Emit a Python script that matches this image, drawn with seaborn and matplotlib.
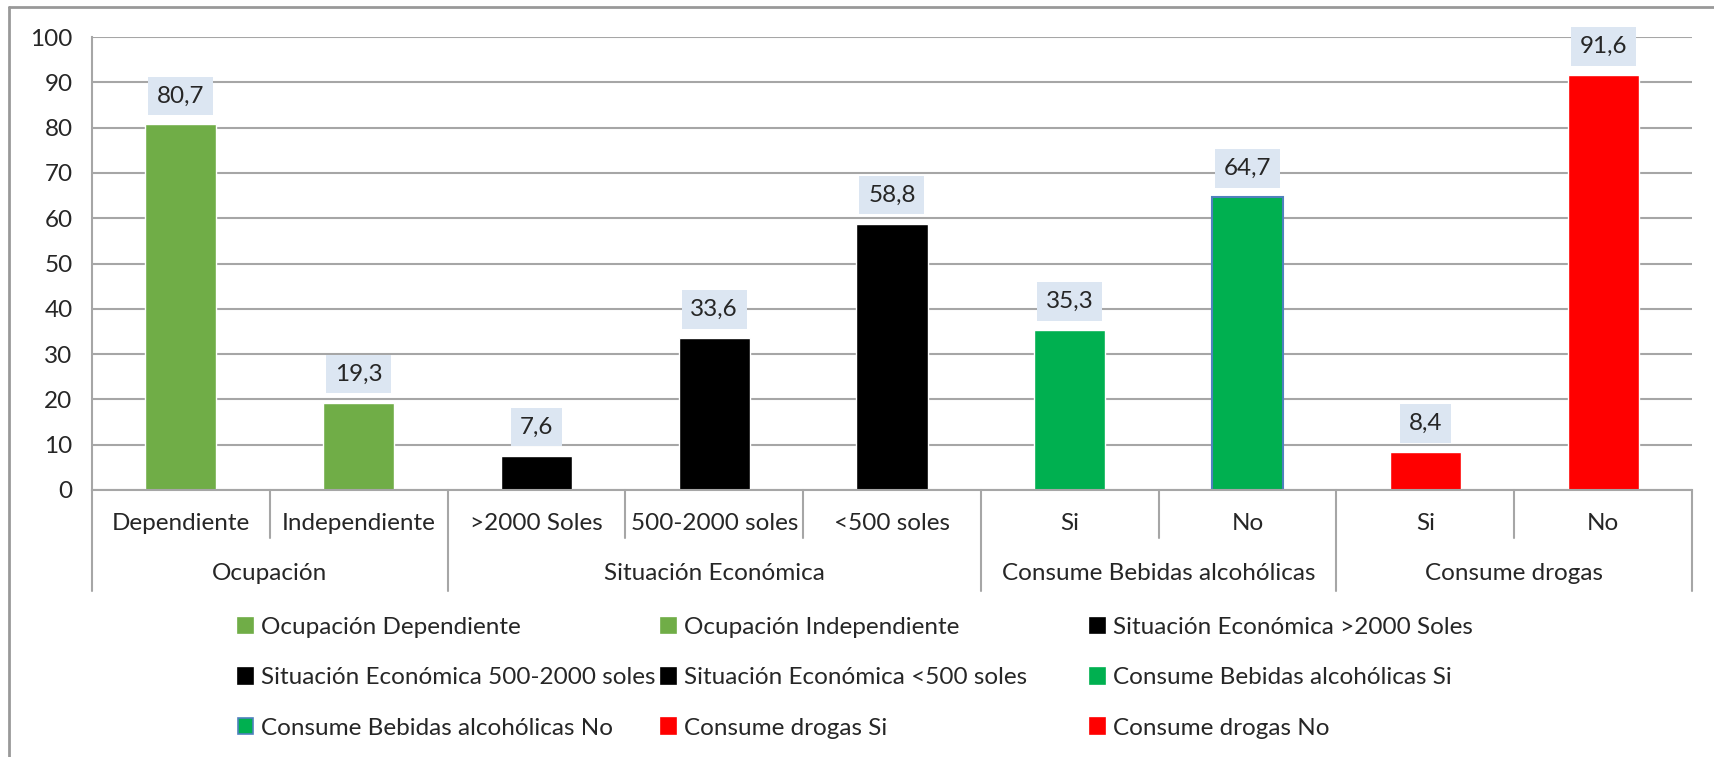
import pandas as pd
import matplotlib
matplotlib.use("Agg")
import matplotlib.pyplot as plt
from matplotlib.patches import Patch
from matplotlib.lines import Line2D
import seaborn as sns

# chart data
groups = ["Ocupación", "Situación Económica", "Consume Bebidas alcohólicas", "Consume drogas"]
group_sizes = [2, 3, 2, 2]
subcats = ["Dependiente", "Independiente", ">2000 Soles", "500-2000 soles", "<500 soles",
           "Si", "No", "Si", "No"]
values = [80.7, 19.3, 7.6, 33.6, 58.8, 35.3, 64.7, 8.4, 91.6]
colors = ["#70AD47", "#70AD47", "#000000", "#000000", "#000000",
          "#00B050", "#00B050", "#FF0000", "#FF0000"]
y_ticks = [0, 10, 20, 30, 40, 50, 60, 70, 80, 90, 100]

W, H = 1715, 757
GRID = "#A6A6A6"
FS = 17.5

sns.set_theme(style="white")
plt.rcParams["font.family"] = ["Lato", "DejaVu Sans"]

full_names = []
for g, n in zip(groups, group_sizes):
    full_names += [g] * n
series = [f"{g} {s}" for g, s in zip(full_names, subcats)]

df = pd.DataFrame({"pos": range(len(values)), "series": series, "value": values})

fig = plt.figure(figsize=(W / 100, H / 100), dpi=100)
ax = fig.add_axes([92 / W, 1 - 490 / H, (1692 - 92) / W, (490 - 37) / H])

sns.barplot(data=df, x="pos", y="value", hue="series", palette=dict(zip(series, colors)),
            dodge=False, width=0.4, ax=ax, legend=False, saturation=1)
# blue outline on "Consume Bebidas alcohólicas No"
for p in ax.patches:
    if abs(p.get_height() - 64.7) < 1e-6:
        p.set_edgecolor("#4F81BD")
        p.set_linewidth(1.5)

ax.set_xlim(-0.5, len(values) - 0.5)
ax.set_ylim(0, 100)
ax.set_yticks(y_ticks)
ax.yaxis.grid(True, color=GRID, linewidth=1.5)
ax.set_axisbelow(True)
ax.tick_params(axis="y", length=9, color=GRID, width=1.5, labelsize=FS, pad=5)
ax.set_xticks([])
ax.set_xlabel("")
ax.set_ylabel("")
for s in ["top", "right"]:
    ax.spines[s].set_visible(False)
for s in ["left", "bottom"]:
    ax.spines[s].set_color(GRID)
    ax.spines[s].set_linewidth(1.5)

# value labels in light-blue boxes
for i, v in enumerate(values):
    ax.annotate(f"{v:.1f}".replace(".", ","), (i, v), xytext=(0, 20.5), textcoords="offset points",
                ha="center", va="center", fontsize=FS,
                bbox=dict(boxstyle="square,pad=0.36", fc="#DCE6F2", ec="none"))

# two-level category axis
xt = ax.get_xaxis_transform()
inner_y, outer_y = -48 / 453, -101 / 453
for i, s in enumerate(subcats):
    ax.text(i, -33 / 453, s, transform=xt, ha="center", va="center", fontsize=FS)
start = 0
bounds = [-0.5]
for g, n in zip(groups, group_sizes):
    mid = start + (n - 1) / 2
    ax.text(mid, -83 / 453, g, transform=xt, ha="center", va="center", fontsize=FS)
    for k in range(1, n):
        xb = start + k - 0.5
        ax.add_line(Line2D([xb, xb], [0, inner_y], transform=xt, color=GRID, lw=1.5, clip_on=False))
    start += n
    bounds.append(start - 0.5)
for xb in bounds:
    ax.add_line(Line2D([xb, xb], [0, outer_y], transform=xt, color=GRID, lw=1.5, clip_on=False))

# legend: three columns laid out row-wise
handles = []
for s, c in zip(series, colors):
    ec = "#4F81BD" if s.endswith("alcohólicas No") else c
    handles.append(Patch(facecolor=c, edgecolor=ec, linewidth=1.2))
col_x = [238, 661, 1090]
for col in range(3):
    idx = [col, col + 3, col + 6]
    fig.legend([handles[i] for i in idx], [series[i] for i in idx],
               loc="center left", bbox_to_anchor=(col_x[col] / W, 1 - 678 / H),
               frameon=False, fontsize=FS, handlelength=0.6, handleheight=0.6,
               handletextpad=0.35, labelspacing=1.2, borderpad=0, borderaxespad=0)

# outer frame (left and top)
fig.add_artist(Line2D([9 / W, 9 / W], [0, 1 - 7 / H], transform=fig.transFigure, color="#999999", lw=2))
fig.add_artist(Line2D([9 / W, 1], [1 - 7 / H, 1 - 7 / H], transform=fig.transFigure, color="#999999", lw=2))

fig.savefig("out.png", dpi=100)
